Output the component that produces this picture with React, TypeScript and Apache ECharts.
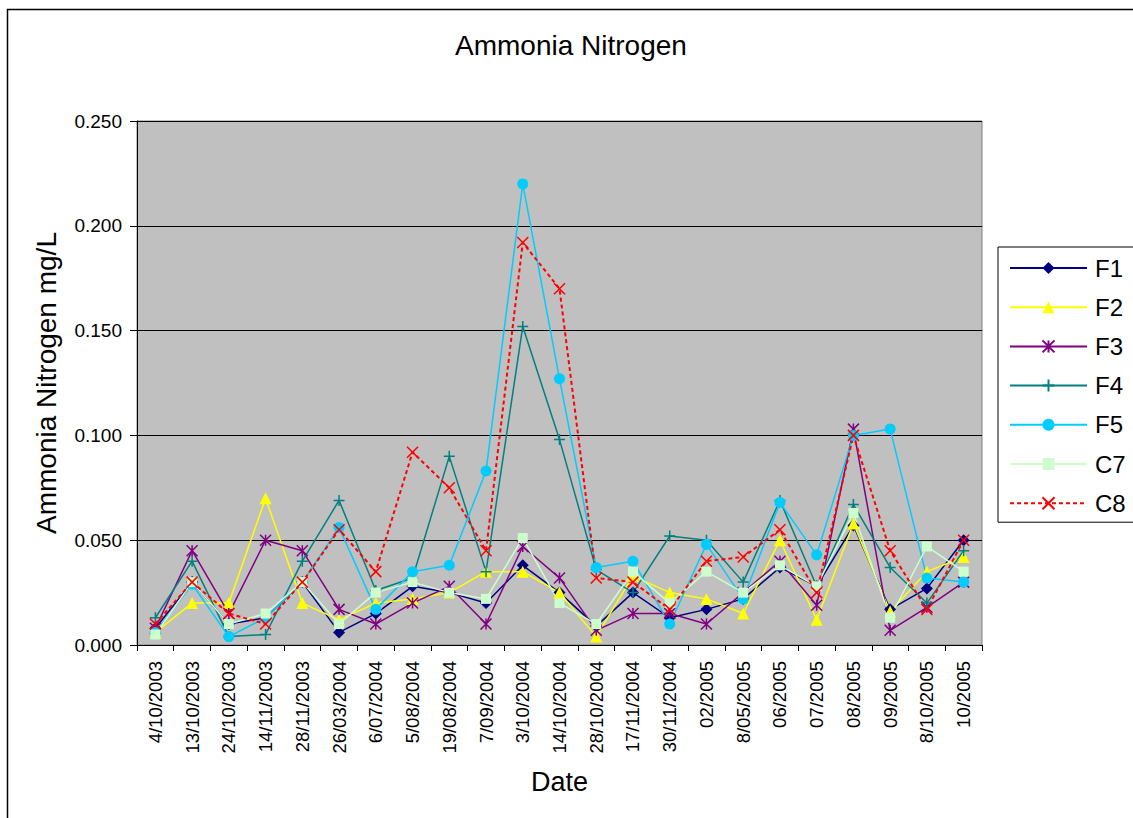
import React, { useEffect, useRef } from "react";
import * as echarts from "echarts";

const categories = [
  "4/10/2003", "13/10/2003", "24/10/2003", "14/11/2003", "28/11/2003", "26/03/2004",
  "6/07/2004", "5/08/2004", "19/08/2004", "7/09/2004", "3/10/2004", "14/10/2004",
  "28/10/2004", "17/11/2004", "30/11/2004", "02/2005", "8/05/2005", "06/2005",
  "07/2005", "08/2005", "09/2005", "8/10/2005", "10/2005",
];

const F1 = [0.008, 0.030, 0.010, 0.013, 0.030, 0.006, 0.015, 0.028, 0.025, 0.020, 0.038, 0.025, 0.009, 0.025, 0.013, 0.017, 0.022, 0.037, 0.028, 0.057, 0.017, 0.027, 0.050];
const F2 = [0.006, 0.020, 0.020, 0.070, 0.020, 0.012, 0.020, 0.022, 0.025, 0.035, 0.035, 0.025, 0.004, 0.033, 0.025, 0.022, 0.015, 0.050, 0.012, 0.058, 0.016, 0.035, 0.042];
const F3 = [0.008, 0.045, 0.015, 0.050, 0.045, 0.017, 0.010, 0.020, 0.028, 0.010, 0.047, 0.032, 0.007, 0.015, 0.015, 0.010, 0.025, 0.040, 0.019, 0.103, 0.007, 0.018, 0.030];
const F4 = [0.013, 0.040, 0.004, 0.005, 0.040, 0.069, 0.026, 0.032, 0.090, 0.035, 0.152, 0.098, 0.036, 0.025, 0.052, 0.050, 0.030, 0.069, 0.028, 0.067, 0.037, 0.020, 0.045];
const F5 = [0.006, 0.029, 0.004, 0.013, 0.030, 0.056, 0.017, 0.035, 0.038, 0.083, 0.220, 0.127, 0.037, 0.040, 0.010, 0.048, 0.022, 0.068, 0.043, 0.100, 0.103, 0.032, 0.030];
const C7 = [0.005, 0.030, 0.010, 0.015, 0.030, 0.010, 0.025, 0.030, 0.025, 0.022, 0.051, 0.020, 0.010, 0.035, 0.020, 0.035, 0.025, 0.038, 0.028, 0.063, 0.013, 0.047, 0.035];
const C8 = [0.010, 0.030, 0.015, 0.010, 0.030, 0.055, 0.035, 0.092, 0.075, 0.045, 0.192, 0.170, 0.032, 0.030, 0.017, 0.040, 0.042, 0.055, 0.025, 0.100, 0.045, 0.017, 0.050];

const yTicks = [0, 0.05, 0.1, 0.15, 0.2, 0.25];

const FONT = "'Liberation Sans', Arial, sans-serif";

const STAR = "path://M0,0L10,10M10,0L0,10M5,0L5,10";
const PLUS = "path://M5,0L5,10M0,5L10,5";
const CROSS = "path://M0,0L10,10M10,0L0,10";

type SDef = { name: string; data: number[]; color: string; symbol: string; size: number; stroke?: boolean; dashed?: boolean };

const seriesDefs: SDef[] = [
  { name: "F1", data: F1, color: "#000080", symbol: "diamond", size: 12 },
  { name: "F2", data: F2, color: "#FFFF00", symbol: "triangle", size: 12 },
  { name: "F3", data: F3, color: "#800080", symbol: STAR, size: 11, stroke: true },
  { name: "F4", data: F4, color: "#008080", symbol: PLUS, size: 11, stroke: true },
  { name: "F5", data: F5, color: "#00CCFF", symbol: "circle", size: 11 },
  { name: "C7", data: C7, color: "#CCFFCC", symbol: "rect", size: 10 },
  { name: "C8", data: C8, color: "#FF0000", symbol: CROSS, size: 11, stroke: true, dashed: true },
];

export default function App() {
  const ref = useRef<HTMLDivElement>(null);
  useEffect(() => {
    document.body.style.margin = "0";
    const chart = echarts.init(ref.current!, null, { renderer: "svg" });
    chart.setOption({
      animation: false,
      backgroundColor: "#ffffff",
      textStyle: { fontFamily: FONT },
      title: {
        text: "Ammonia Nitrogen",
        left: 455,
        top: 31,
        padding: 0,
        textStyle: { fontFamily: FONT, fontSize: 28, fontWeight: "normal", color: "#000" },
      },
      graphic: [
        {
          type: "rect",
          left: 5,
          top: 7,
          shape: { x: 0, y: 0, width: 1200, height: 900 },
          style: { fill: "none", stroke: "#000", lineWidth: 1.5 },
          silent: true,
        },
      ],
      legend: {
        orient: "vertical",
        left: 998,
        top: 247,
        padding: [9, 8, 7, 11],
        itemWidth: 77,
        itemHeight: 15,
        itemGap: 15.2,
        borderColor: "#000",
        borderWidth: 1,
        backgroundColor: "#fff",
        textStyle: { fontFamily: FONT, fontSize: 24, color: "#000", padding: [0, 0, 0, 3] },
        data: seriesDefs.map((s) => s.name),
      },
      grid: {
        left: 137,
        top: 121,
        width: 845,
        height: 524,
        show: true,
        backgroundColor: "#C0C0C0",
        borderColor: "#808080",
        borderWidth: 1,
      },
      xAxis: {
        type: "category",
        data: categories,
        boundaryGap: true,
        name: "Date",
        nameLocation: "middle",
        nameGap: 123,
        nameTextStyle: { fontFamily: FONT, fontSize: 27, color: "#000" },
        axisLine: { lineStyle: { color: "#000", width: 1 } },
        axisTick: { show: true, length: 6, lineStyle: { color: "#000" }, interval: 0 },
        axisLabel: {
          interval: 0,
          rotate: 90,
          margin: 16,
          fontFamily: FONT,
          fontSize: 18.5,
          color: "#000",
        },
        splitLine: { show: false },
      },
      yAxis: {
        type: "value",
        min: 0,
        max: 0.25,
        interval: 0.05,
        name: "Ammonia Nitrogen mg/L",
        nameLocation: "middle",
        nameGap: 77,
        nameTextStyle: { fontFamily: FONT, fontSize: 28, color: "#000" },
        axisLine: { show: true, lineStyle: { color: "#000", width: 1 } },
        axisTick: { show: true, length: 7, lineStyle: { color: "#000" } },
        axisLabel: {
          margin: 15,
          fontFamily: FONT,
          fontSize: 19,
          color: "#000",
          formatter: (v: number) => (yTicks.some((t) => Math.abs(t - v) < 1e-9) ? v.toFixed(3) : ""),
        },
        splitLine: { show: true, lineStyle: { color: "#000", width: 1 } },
      },
      series: seriesDefs.map((s) => ({
        name: s.name,
        type: "line",
        data: s.data,
        symbol: s.symbol,
        symbolSize: s.size,
        showSymbol: true,
        lineStyle: {
          color: s.color,
          width: s.dashed ? 2 : 1.5,
          type: s.dashed ? [4, 3] : "solid",
        },
        itemStyle: s.stroke
          ? { color: s.color, borderColor: s.color, borderWidth: 1.5 }
          : { color: s.color, borderWidth: 0 },
        emphasis: { disabled: true },
      })),
    });
    return () => chart.dispose();
  }, []);
  return <div ref={ref} style={{ width: 1133, height: 818 }} />;
}
